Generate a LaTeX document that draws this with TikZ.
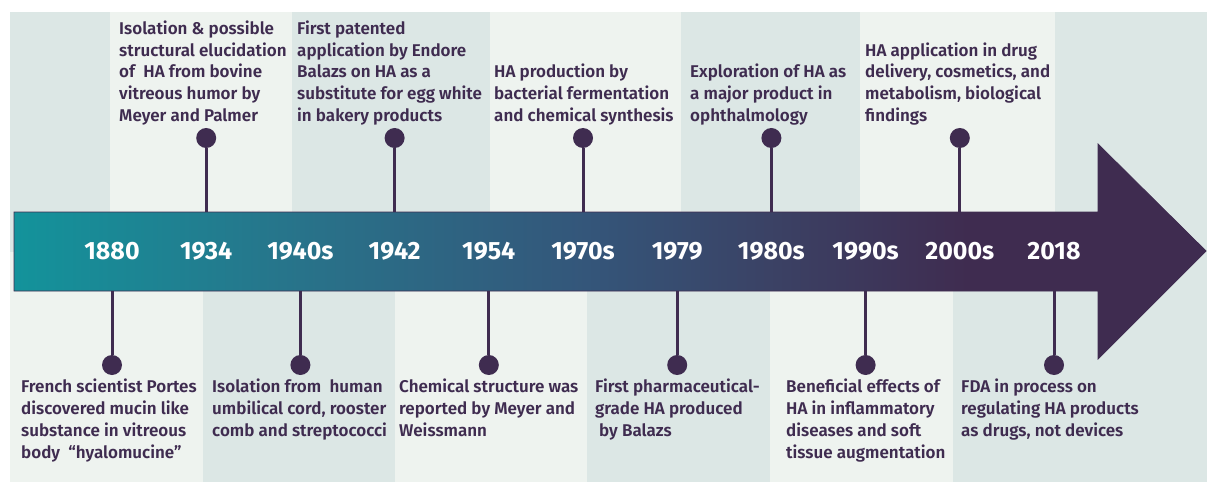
\documentclass[tikz,border=0pt]{standalone}
\usepackage{fontspec}
\setmainfont{Fira Sans}
\newfontfamily\semib{Fira Sans SemiBold}

\definecolor{stripeA}{HTML}{DCE7E5}
\definecolor{stripeB}{HTML}{EEF3EF}
\definecolor{plum}{HTML}{3F2C50}
\definecolor{tealA}{HTML}{13939B}
\definecolor{tealB}{HTML}{28738A}
\definecolor{midA}{HTML}{34567A}
\definecolor{midB}{HTML}{3B4164}

\pgfdeclarehorizontalshading{barshade}{100bp}{color(0bp)=(tealA); color(25bp)=(tealA); color(37bp)=(tealB); color(49bp)=(midA); color(57bp)=(midB); color(65bp)=(plum); color(100bp)=(plum)}

\tikzset{
    note/.style={font=\semib\fontsize{17}{22}\selectfont, text=plum, align=left, inner sep=0pt, anchor=base west},
    year/.style={font=\bfseries\fontsize{25}{25}\selectfont, text=white},
    dot/.style={circle, fill=plum, minimum size=20pt, inner sep=0pt},
    stem/.style={plum, line width=3pt},
}

\begin{document}
\begin{tikzpicture}[x=1pt, y=-1pt]
    \useasboundingbox (0,0) rectangle (1207,484);

    % Stripes
    \foreach \a/\b/\c in {10/110/stripeA, 110/292/stripeB, 292/490/stripeA, 490/681/stripeB, 681/860/stripeA, 860/1055/stripeB, 1055/1207/stripeA}{
        \fill[\c] (\a,12) rectangle (\b,252);
    }
    \foreach \a/\b/\c in {10/203/stripeB, 203/395/stripeA, 395/587/stripeB, 587/770/stripeA, 770/953/stripeB, 953/1207/stripeA}{
        \fill[\c] (\a,252) rectangle (\b,482);
    }

    % Arrow
    \shade[shading=barshade, draw=plum, line width=0.8pt]
        (14,212) -- (1098,212) -- (1098,144) -- (1206,251) -- (1098,359) -- (1098,291) -- (14,291) -- cycle;
    \coordinate (bartop) at (0,212);
    \coordinate (barbot) at (0,291);
    \coordinate (toprow) at (0,138);
    \coordinate (botrow) at (0,365);

    % Years
    \foreach \yr [count=\i from 0] in {1880, 1934, 1940s, 1942, 1954, 1970s, 1979, 1980s, 1990s, 2000s, 2018}{
        \node[year] (y\i) at (112+94.2*\i, 251) {\yr};
    }

    % Pins above
    \foreach \i in {1, 3, 5, 7, 9}{
        \node[dot] (d\i) at (y\i |- toprow) {};
        \draw[stem] (d\i) -- (d\i |- bartop);
    }

    % Pins below
    \foreach \i in {0, 2, 4, 6, 8, 10}{
        \node[dot] (d\i) at (y\i |- botrow) {};
        \draw[stem] (d\i) -- (d\i |- barbot);
    }

    % Events above (placed by last baseline)
    \node[note] (t1) at (119,122) {Isolation \& possible\\structural elucidation\\of\ \ HA from bovine\\vitreous humor by\\Meyer and Palmer};
    \node[note] (t3) at (297,122) {First patented\\application by Endore\\Balazs on HA as a\\substitute for egg white\\in bakery products};
    \node[note] (t5) at (494,122) {HA production by\\bacterial fermentation\\and chemical synthesis};
    \node[note] (t7) at (690,122) {Exploration of HA as\\a major product in\\ophthalmology};
    \node[note] (t9) at (865,122) {HA application in drug\\delivery, cosmetics, and\\metabolism, biological\\findings};

    % Events below
    \node[note] (t0) at (21,458) {French scientist Portes\\discovered mucin like\\substance in vitreous\\body\ \ “hyalomucine”};
    \node[note] (t2) at (212,436) {Isolation from\ \ human\\umbilical cord, rooster\\comb and streptococci};
    \node[note] (t4) at (399,436) {Chemical structure was\\reported by Meyer and\\Weissmann};
    \node[note] (t6) at (595,436) {First pharmaceutical-\\grade HA produced\\\hspace{4pt}by Balazs};
    \node[note] (t8) at (786,458) {Beneficial effects of\\HA in inflammatory\\diseases and soft\\tissue augmentation};
    \node[note] (t10) at (961,436) {FDA in process on\\regulating HA products\\as drugs, not devices};

\end{tikzpicture}
\end{document}
